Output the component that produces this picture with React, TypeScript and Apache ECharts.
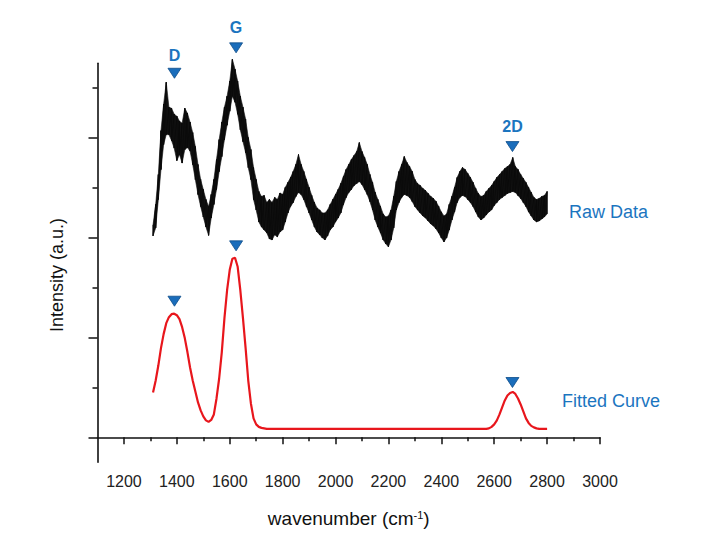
import React, { useEffect, useRef } from 'react';
import * as echarts from 'echarts';

// ---- axis ticks ----
const xMajorTicks = [1200, 1400, 1600, 1800, 2000, 2200, 2400, 2600, 2800, 3000];
const xMinorTicks = [1300, 1500, 1700, 1900, 2100, 2300, 2500, 2700, 2900];
const yMajorTicks = [0, 2, 4, 6];
const yMinorTicks = [1, 3, 5, 7];

// ---- raw spectrum (noise envelope, every 10 cm-1) ----
const rawX = [
  1310, 1320, 1330, 1340, 1350, 1360, 1370, 1380, 1390, 1400,
  1410, 1420, 1430, 1440, 1450, 1460, 1470, 1480, 1490, 1500,
  1510, 1520, 1530, 1540, 1550, 1560, 1570, 1580, 1590, 1600,
  1610, 1620, 1630, 1640, 1650, 1660, 1670, 1680, 1690, 1700,
  1710, 1720, 1730, 1740, 1750, 1760, 1770, 1780, 1790, 1800,
  1810, 1820, 1830, 1840, 1850, 1860, 1870, 1880, 1890, 1900,
  1910, 1920, 1930, 1940, 1950, 1960, 1970, 1980, 1990, 2000,
  2010, 2020, 2030, 2040, 2050, 2060, 2070, 2080, 2090, 2100,
  2110, 2120, 2130, 2140, 2150, 2160, 2170, 2180, 2190, 2200,
  2210, 2220, 2230, 2240, 2250, 2260, 2270, 2280, 2290, 2300,
  2310, 2320, 2330, 2340, 2350, 2360, 2370, 2380, 2390, 2400,
  2410, 2420, 2430, 2440, 2450, 2460, 2470, 2480, 2490, 2500,
  2510, 2520, 2530, 2540, 2550, 2560, 2570, 2580, 2590, 2600,
  2610, 2620, 2630, 2640, 2650, 2660, 2670, 2680, 2690, 2700,
  2710, 2720, 2730, 2740, 2750, 2760, 2770, 2780, 2790, 2800,
];
const rawHi = [
  4.26, 4.67, 5.27, 6.15, 6.68, 7.12, 6.62, 6.60, 6.48, 6.44,
  6.34, 6.30, 6.60, 6.50, 6.32, 6.11, 5.83, 5.47, 5.17, 4.97,
  4.77, 4.63, 4.87, 5.17, 5.57, 5.97, 6.32, 6.62, 6.84, 7.14,
  7.58, 7.38, 7.14, 6.84, 6.62, 6.38, 6.01, 5.77, 5.41, 5.17,
  4.93, 4.83, 4.85, 4.71, 4.77, 4.71, 4.81, 4.77, 4.90, 4.87,
  5.01, 5.11, 5.21, 5.33, 5.47, 5.67, 5.47, 5.33, 5.17, 5.01,
  4.85, 4.71, 4.60, 4.56, 4.50, 4.50, 4.56, 4.67, 4.77, 4.87,
  4.97, 5.09, 5.23, 5.37, 5.47, 5.57, 5.65, 5.73, 5.91, 5.73,
  5.61, 5.47, 5.27, 5.11, 4.91, 4.77, 4.63, 4.48, 4.42, 4.44,
  4.56, 4.83, 5.13, 5.33, 5.47, 5.63, 5.51, 5.43, 5.33, 5.17,
  5.09, 5.05, 4.99, 4.95, 4.89, 4.83, 4.79, 4.73, 4.63, 4.52,
  4.44, 4.48, 4.67, 4.83, 5.01, 5.21, 5.33, 5.41, 5.37, 5.29,
  5.21, 5.11, 4.99, 4.89, 4.83, 4.85, 4.93, 4.99, 5.05, 5.13,
  5.21, 5.27, 5.33, 5.39, 5.43, 5.47, 5.61, 5.43, 5.37, 5.27,
  5.19, 5.11, 5.01, 4.91, 4.81, 4.77, 4.79, 4.83, 4.85, 4.93,
];
const rawLo = [
  4.04, 4.20, 4.77, 5.37, 5.87, 6.07, 6.07, 5.95, 5.80, 5.55,
  5.67, 5.50, 5.77, 5.81, 5.74, 5.47, 5.17, 4.87, 4.63, 4.42,
  4.22, 4.05, 4.40, 4.67, 4.97, 5.33, 5.63, 5.97, 6.26, 6.54,
  6.84, 6.72, 6.48, 6.17, 5.93, 5.71, 5.41, 5.17, 4.77, 4.56,
  4.32, 4.22, 4.16, 4.10, 3.98, 3.96, 4.06, 4.02, 4.12, 4.16,
  4.32, 4.50, 4.63, 4.71, 4.83, 4.91, 4.87, 4.77, 4.63, 4.50,
  4.36, 4.22, 4.12, 4.06, 4.00, 3.96, 4.04, 4.16, 4.22, 4.32,
  4.40, 4.50, 4.67, 4.81, 4.91, 4.97, 5.05, 5.09, 5.13, 5.07,
  4.97, 4.87, 4.73, 4.56, 4.36, 4.22, 4.10, 3.96, 3.88, 3.82,
  3.96, 4.20, 4.56, 4.71, 4.81, 4.87, 4.85, 4.81, 4.73, 4.63,
  4.56, 4.50, 4.44, 4.40, 4.34, 4.28, 4.24, 4.18, 4.10, 4.00,
  3.92, 4.00, 4.16, 4.36, 4.52, 4.71, 4.81, 4.85, 4.83, 4.77,
  4.71, 4.63, 4.52, 4.42, 4.36, 4.40, 4.46, 4.52, 4.56, 4.65,
  4.71, 4.77, 4.81, 4.85, 4.89, 4.91, 4.93, 4.91, 4.85, 4.79,
  4.71, 4.63, 4.52, 4.44, 4.36, 4.32, 4.34, 4.38, 4.42, 4.48,
];

// ---- fitted curve ----
const fitX = [
  1310, 1320, 1330, 1340, 1350, 1360, 1370, 1380, 1390, 1400,
  1410, 1420, 1430, 1440, 1450, 1460, 1470, 1480, 1490, 1500,
  1510, 1520, 1530, 1540, 1550, 1560, 1570, 1580, 1590, 1600,
  1610, 1620, 1630, 1640, 1650, 1660, 1670, 1680, 1690, 1700,
  1710, 1720, 1730, 1740, 1750,
  2560, 2570, 2580, 2590, 2600, 2610, 2620, 2630, 2640, 2650,
  2660, 2670, 2680, 2690, 2700, 2710, 2720, 2730, 2740, 2750,
  2760, 2770, 2800,
];
const fitY = [
  0.90, 1.14, 1.44, 1.79, 2.07, 2.29, 2.41, 2.47, 2.48, 2.45,
  2.37, 2.21, 1.99, 1.71, 1.40, 1.14, 0.92, 0.70, 0.54, 0.42,
  0.34, 0.31, 0.35, 0.46, 0.78, 1.18, 1.71, 2.39, 2.95, 3.36,
  3.58, 3.60, 3.42, 2.95, 2.39, 1.79, 1.14, 0.68, 0.38, 0.26,
  0.21, 0.19, 0.18, 0.17, 0.17,
  0.17, 0.17, 0.18, 0.21, 0.26, 0.34, 0.46, 0.60, 0.74, 0.84,
  0.89, 0.91, 0.87, 0.78, 0.66, 0.52, 0.38, 0.29, 0.23, 0.20,
  0.18, 0.17, 0.17,
];

// ---- peak markers ----
const peakNames = ['D', 'G', '2D'];
const peakX = [1391, 1624, 2669];
const rawMarkerY = [7.30, 7.81, 5.83];
const fitMarkerY = [2.73, 3.84, 1.10];
const peakLabelLift = [-18, -20, -20];

const FONT = '"Liberation Sans", Arial, Helvetica, sans-serif';
const BLUE = '#1b75bf';

export default function App() {
  const ref = useRef<HTMLDivElement>(null);

  useEffect(() => {
    if (!ref.current) return;
    const chart = echarts.init(ref.current, undefined, { renderer: 'svg' });

    const rawData: number[][] = [];
    rawX.forEach((x, i) => {
      rawData.push([x, rawHi[i]]);
      rawData.push([x, rawLo[i]]);
    });
    const bandData = rawX.map((x, i) => [x, rawHi[i], rawLo[i]]);
    const fitData = fitX.map((x, i) => [x, fitY[i]]);

    const markerStyle = { color: '#1a6dbb', borderColor: '#0e4d8a', borderWidth: 0.8, opacity: 1 };

    chart.setOption({
      animation: false,
      backgroundColor: '#ffffff',
      grid: { left: 97.5, right: 101, top: 63.3, bottom: 89.7, containLabel: false, outerBoundsMode: 'none' },
      xAxis: [
        {
          type: 'value',
          min: 1100,
          max: 3000,
          position: 'bottom',
          axisLine: { show: true, lineStyle: { color: '#111', width: 1.6 } },
          axisTick: { show: true, length: 7, customValues: xMajorTicks, lineStyle: { color: '#111', width: 1.5 } },
          axisLabel: {
            show: true,
            customValues: xMajorTicks,
            formatter: (v: number) => String(v),
            margin: 11,
            fontSize: 16,
            color: '#222',
            fontFamily: FONT,
          },
          splitLine: { show: false },
          name: 'wavenumber (cm{sup|-1})',
          nameLocation: 'middle',
          nameGap: 47,
          nameTextStyle: {
            fontSize: 19,
            color: '#111',
            fontFamily: FONT,
            rich: { sup: { fontSize: 11, fontFamily: FONT, color: '#111', verticalAlign: 'top', lineHeight: 12 } },
          },
        },
        {
          type: 'value',
          min: 1100,
          max: 3000,
          position: 'bottom',
          axisLine: { show: false },
          axisTick: { show: true, length: 4, customValues: xMinorTicks, lineStyle: { color: '#111', width: 1.5 } },
          axisLabel: { show: false },
          splitLine: { show: false },
        },
      ],
      yAxis: [
        {
          type: 'value',
          min: -0.5,
          max: 7.5,
          position: 'left',
          axisLine: { show: true, lineStyle: { color: '#111', width: 1.6 } },
          axisTick: { show: true, length: 9, customValues: yMajorTicks, lineStyle: { color: '#111', width: 1.5 } },
          axisLabel: { show: false },
          splitLine: { show: false },
        },
        {
          type: 'value',
          min: -0.5,
          max: 7.5,
          position: 'left',
          axisLine: { show: false },
          axisTick: { show: true, length: 5, customValues: yMinorTicks, lineStyle: { color: '#111', width: 1.5 } },
          axisLabel: { show: false },
          splitLine: { show: false },
        },
      ],
      series: [
        {
          name: 'raw band',
          type: 'custom',
          data: bandData,
          clip: false,
          silent: true,
          encode: { x: 0, y: [1, 2] },
          z: 1,
          renderItem: (params: any, api: any) => {
            const i = params.dataIndex;
            if (i >= rawX.length - 1) return null;
            const a = api.coord([rawX[i], rawHi[i]]);
            const b = api.coord([rawX[i + 1], rawHi[i + 1]]);
            const c = api.coord([rawX[i + 1], rawLo[i + 1]]);
            const d = api.coord([rawX[i], rawLo[i]]);
            return {
              type: 'polygon',
              shape: { points: [a, b, c, d] },
              style: { fill: '#111', stroke: '#111', lineWidth: 0.6 },
            };
          },
        },
        {
          name: 'Raw Data',
          type: 'line',
          data: rawData,
          showSymbol: false,
          clip: false,
          lineStyle: { color: '#0a0a0a', width: 1 },
          z: 2,
        },
        {
          name: 'Fitted Curve',
          type: 'line',
          data: fitData,
          showSymbol: false,
          clip: false,
          lineStyle: { color: '#e8161c', width: 2.2 },
          z: 2,
        },
        {
          name: 'raw peaks',
          type: 'scatter',
          clip: false,
          symbol: 'triangle',
          symbolRotate: 180,
          symbolSize: [13, 10],
          itemStyle: markerStyle,
          z: 3,
          data: peakNames.map((n, i) => ({
            name: n,
            value: [peakX[i], rawMarkerY[i]],
            label: { offset: [0, peakLabelLift[i]] },
          })),
          label: {
            show: true,
            position: 'inside',
            formatter: '{b}',
            color: BLUE,
            fontSize: 16,
            fontWeight: 'bold',
            fontFamily: FONT,
          },
        },
        {
          name: 'fit peaks',
          type: 'scatter',
          clip: false,
          symbol: 'triangle',
          symbolRotate: 180,
          symbolSize: [13, 10],
          itemStyle: markerStyle,
          z: 3,
          data: peakNames.map((n, i) => ({ name: n, value: [peakX[i], fitMarkerY[i]] })),
        },
      ],
      graphic: [
        {
          type: 'text',
          x: 57,
          y: 275,
          rotation: Math.PI / 2,
          style: {
            text: 'Intensity (a.u.)',
            font: `18px ${FONT}`,
            fill: '#111',
            textAlign: 'center',
            textVerticalAlign: 'middle',
          },
        },
        {
          type: 'text',
          x: 569,
          y: 212,
          style: { text: 'Raw Data', font: `18px ${FONT}`, fill: BLUE, textAlign: 'left', textVerticalAlign: 'middle' },
        },
        {
          type: 'text',
          x: 562,
          y: 401,
          style: { text: 'Fitted Curve', font: `18px ${FONT}`, fill: BLUE, textAlign: 'left', textVerticalAlign: 'middle' },
        },
      ],
    });

    return () => chart.dispose();
  }, []);

  return (
    <div
      ref={ref}
      style={{ position: 'fixed', left: 0, top: 0, width: 701, height: 552, background: '#fff' }}
    />
  );
}
